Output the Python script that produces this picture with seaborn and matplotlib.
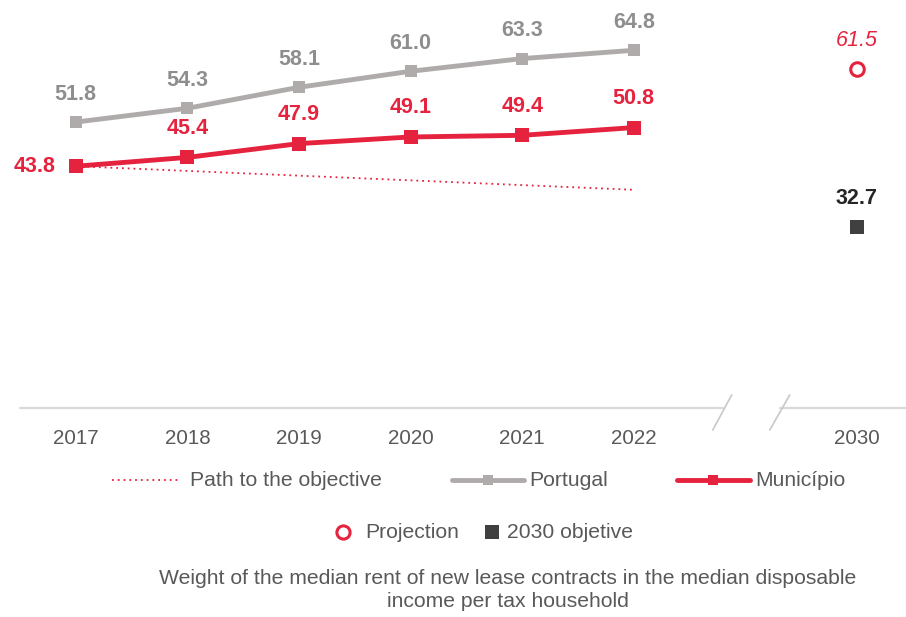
import numpy as np
import pandas as pd
import matplotlib
matplotlib.use("Agg")
import matplotlib.pyplot as plt
from matplotlib.lines import Line2D
import seaborn as sns

# ---- data ----
years = ["2017", "2018", "2019", "2020", "2021", "2022"]
portugal = [51.8, 54.3, 58.1, 61.0, 63.3, 64.8]
municipio = [43.8, 45.4, 47.9, 49.1, 49.4, 50.8]
path_objective = [43.8, 42.95, 42.09, 41.24, 40.38, 39.53]
target_year = "2030"
projection_2030 = 61.5
objective_2030 = 32.7
legend_labels = ["Path to the objective", "Portugal", "Município", "Projection", "2030 objetive"]
caption = ("Weight of the median rent of new lease contracts in the median disposable\n"
           "income per tax household")

RED = "#E5233E"
GRAY = "#AFABAB"
GRAY_LBL = "#8E8E8E"
DARK = "#404040"
TXT = "#595959"

sns.set_theme(style="white")
plt.rcParams["font.family"] = ["Liberation Sans", "DejaVu Sans"]

fig = plt.figure(figsize=(9.06, 6.17), dpi=100)
ax = fig.add_axes([20 / 906, 1 - 408 / 617, 1 - 20 / 906, 408 / 617])

pos = np.arange(len(years))
pos_target = len(years) + 1

df = pd.DataFrame({"x": pos, "Portugal": portugal, "Município": municipio, "Path": path_objective})

sns.lineplot(data=df, x="x", y="Path", ax=ax, color=RED, lw=1.3, linestyle=(0, (1, 2.2)))
sns.lineplot(data=df, x="x", y="Portugal", ax=ax, color=GRAY, lw=3.5, marker="s",
             markersize=9, markeredgewidth=0)
sns.lineplot(data=df, x="x", y="Município", ax=ax, color=RED, lw=3.5, marker="s",
             markersize=9.5, markeredgewidth=0)

df2 = pd.DataFrame({"x": [pos_target], "proj": [projection_2030], "obj": [objective_2030]})
sns.scatterplot(data=df2, x="x", y="proj", ax=ax, marker="o", s=95, facecolor="white",
                edgecolor=RED, linewidth=2.2, zorder=5)
sns.scatterplot(data=df2, x="x", y="obj", ax=ax, marker="s", s=110, color=DARK,
                linewidth=0, zorder=5)

LBL = 15.5
for x, v in zip(pos, portugal):
    ax.annotate(f"{v:.1f}", (x, v), xytext=(0, 20), textcoords="offset points",
                ha="center", va="center", fontsize=LBL, fontweight="bold", color=GRAY_LBL)
for i, (x, v) in enumerate(zip(pos, municipio)):
    if i == 0:
        ax.annotate(f"{v:.1f}", (x, v), xytext=(-14.5, 0), textcoords="offset points",
                    ha="right", va="center", fontsize=LBL, fontweight="bold", color=RED)
    else:
        ax.annotate(f"{v:.1f}", (x, v), xytext=(0, 21), textcoords="offset points",
                    ha="center", va="center", fontsize=LBL, fontweight="bold", color=RED)
ax.annotate(f"{projection_2030:.1f}", (pos_target, projection_2030), xytext=(0, 20),
            textcoords="offset points", ha="center", va="center", fontsize=LBL,
            fontstyle="italic", color=RED)
ax.annotate(f"{objective_2030:.1f}", (pos_target, objective_2030), xytext=(0, 21),
            textcoords="offset points", ha="center", va="center", fontsize=LBL,
            fontweight="bold", color="#262626")

# axes
ax.set_xlim(-0.5, 7.44)
ax.set_ylim(0, 408 / 5.52)
ax.set_xticks(list(pos) + [pos_target])
ax.set_xticklabels(years + [target_year])
ax.tick_params(axis="x", length=0, pad=15, labelsize=14.8, labelcolor=TXT)
ax.set_yticks([])
ax.set_xlabel("")
ax.set_ylabel("")
for s in ax.spines.values():
    s.set_visible(False)

# broken axis line
ax.plot([-0.5, 5.80], [0, 0], color="#D9D9D9", lw=1.6, clip_on=False, zorder=1)
ax.plot([6.31, 7.44], [0, 0], color="#D9D9D9", lw=1.6, clip_on=False, zorder=1)
ax.plot([5.708, 5.878], [-3.99, 2.36], color="#C8C8C8", lw=1.2, clip_on=False)
ax.plot([6.219, 6.398], [-3.99, 2.36], color="#C8C8C8", lw=1.2, clip_on=False)

# legend (manual)
LEG = 15.2
y1 = 1 - 480 / 617
y2 = 1 - 532 / 617
fig.add_artist(Line2D([0.1236, 0.1965], [y1, y1], color=RED, lw=1.3, linestyle=(0, (1, 2.2))))
fig.text(0.2097, y1, legend_labels[0], fontsize=LEG, color=TXT, va="center", ha="left")
fig.add_artist(Line2D([0.4989, 0.5784], [y1, y1], color=GRAY, lw=3.5, solid_capstyle="round"))
fig.add_artist(Line2D([0.5386], [y1], color=GRAY, marker="s", markersize=7, markeredgewidth=0))
fig.text(0.5839, y1, legend_labels[1], fontsize=LEG, color=TXT, va="center", ha="left")
fig.add_artist(Line2D([0.7472, 0.8278], [y1, y1], color=RED, lw=3.5, solid_capstyle="round"))
fig.add_artist(Line2D([0.787], [y1], color=RED, marker="s", markersize=7, markeredgewidth=0))
fig.text(0.8333, y1, legend_labels[2], fontsize=LEG, color=TXT, va="center", ha="left")
fig.add_artist(Line2D([0.3786], [y2], color=RED, marker="o", markersize=9.5,
                      markerfacecolor="white", markeredgewidth=2.2))
fig.text(0.4029, y2, legend_labels[3], fontsize=LEG, color=TXT, va="center", ha="left")
fig.add_artist(Line2D([0.543], [y2], color=DARK, marker="s", markersize=9.5, markeredgewidth=0))
fig.text(0.5596, y2, legend_labels[4], fontsize=LEG, color=TXT, va="center", ha="left")

fig.text(0.5607, 1 - 590 / 617, caption, fontsize=15.2, color=TXT, ha="center", va="center",
         linespacing=1.25)

fig.savefig("out.png", dpi=100)
